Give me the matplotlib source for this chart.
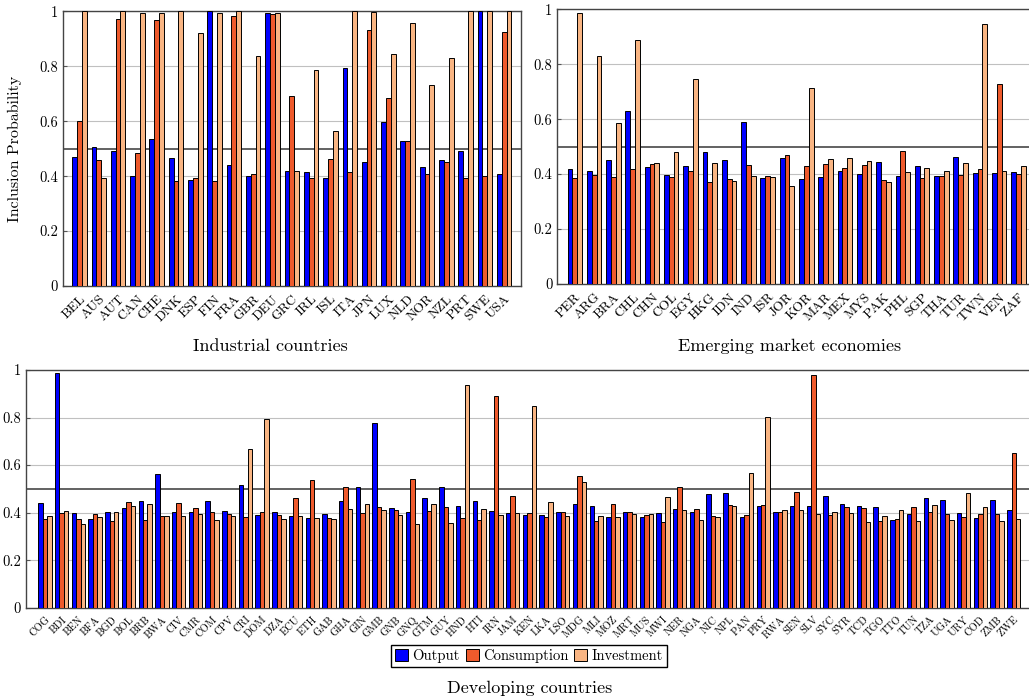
import numpy as np
import matplotlib
matplotlib.use("Agg")
import matplotlib.pyplot as plt
from matplotlib.patches import Patch

plt.rcParams["font.family"] = "serif"
plt.rcParams["font.serif"] = ["cmr10", "DejaVu Serif"]
plt.rcParams["mathtext.fontset"] = "cm"
plt.rcParams["axes.formatter.use_mathtext"] = True

# --- data -------------------------------------------------------------
ind_names = ["BEL", "AUS", "AUT", "CAN", "CHE", "DNK", "ESP", "FIN", "FRA", "GBR", "DEU", "GRC",
             "IRL", "ISL", "ITA", "JPN", "LUX", "NLD", "NOR", "NZL", "PRT", "SWE", "USA"]
ind_output = [0.469, 0.505, 0.491, 0.400, 0.536, 0.465, 0.387, 1.000, 0.439, 0.401, 0.994, 0.419,
              0.415, 0.392, 0.793, 0.452, 0.596, 0.527, 0.433, 0.457, 0.490, 1.000, 0.407]
ind_cons = [0.600, 0.458, 0.971, 0.486, 0.967, 0.384, 0.395, 0.384, 0.984, 0.407, 0.991, 0.690,
            0.392, 0.463, 0.415, 0.932, 0.686, 0.527, 0.407, 0.450, 0.395, 0.399, 0.926]
ind_inv = [1.000, 0.393, 1.000, 0.994, 0.994, 1.000, 0.920, 0.994, 1.000, 0.836, 0.995, 0.417,
           0.788, 0.566, 1.000, 0.996, 0.845, 0.959, 0.733, 0.830, 1.000, 1.000, 1.000]

eme_names = ["PER", "ARG", "BRA", "CHL", "CHN", "COL", "EGY", "HKG", "IDN", "IND", "ISR", "JOR",
             "KOR", "MAR", "MEX", "MYS", "PAK", "PHL", "SGP", "THA", "TUR", "TWN", "VEN", "ZAF"]
eme_output = [0.419, 0.413, 0.453, 0.631, 0.426, 0.397, 0.431, 0.479, 0.450, 0.589, 0.385, 0.458,
              0.383, 0.388, 0.413, 0.400, 0.443, 0.393, 0.430, 0.393, 0.462, 0.404, 0.403, 0.408]
eme_cons = [0.385, 0.397, 0.388, 0.417, 0.436, 0.390, 0.413, 0.371, 0.382, 0.433, 0.392, 0.470,
            0.430, 0.436, 0.421, 0.432, 0.379, 0.483, 0.385, 0.392, 0.398, 0.419, 0.729, 0.402]
eme_inv = [0.988, 0.830, 0.585, 0.888, 0.439, 0.479, 0.746, 0.439, 0.374, 0.392, 0.388, 0.357,
           0.712, 0.454, 0.460, 0.447, 0.371, 0.407, 0.422, 0.410, 0.439, 0.945, 0.410, 0.431]

dev_names = ["COG", "BDI", "BEN", "BFA", "BGD", "BOL", "BRB", "BWA", "CIV", "CMR", "COM", "CPV",
             "CRI", "DOM", "DZA", "ECU", "ETH", "GAB", "GHA", "GIN", "GMB", "GNB", "GNQ", "GTM",
             "GUY", "HND", "HTI", "IRN", "JAM", "KEN", "LKA", "LSO", "MDG", "MLI", "MOZ", "MRT",
             "MUS", "MWI", "NER", "NGA", "NIC", "NPL", "PAN", "PRY", "RWA", "SEN", "SLV", "SYC",
             "SYR", "TCD", "TGO", "TTO", "TUN", "TZA", "UGA", "URY", "COD", "ZMB", "ZWE"]
dev_output = [0.439, 0.989, 0.397, 0.372, 0.404, 0.418, 0.450, 0.564, 0.404, 0.401, 0.449, 0.408,
              0.515, 0.390, 0.404, 0.386, 0.376, 0.396, 0.450, 0.508, 0.778, 0.421, 0.401, 0.461,
              0.508, 0.428, 0.449, 0.405, 0.398, 0.388, 0.390, 0.401, 0.438, 0.428, 0.381, 0.401,
              0.381, 0.398, 0.417, 0.401, 0.477, 0.484, 0.381, 0.428, 0.404, 0.426, 0.429, 0.468,
              0.438, 0.429, 0.424, 0.370, 0.394, 0.460, 0.453, 0.397, 0.379, 0.454, 0.410]
dev_cons = [0.374, 0.400, 0.374, 0.394, 0.363, 0.446, 0.367, 0.384, 0.439, 0.418, 0.404, 0.396,
            0.380, 0.404, 0.390, 0.460, 0.539, 0.376, 0.508, 0.397, 0.424, 0.412, 0.541, 0.405,
            0.424, 0.376, 0.367, 0.891, 0.470, 0.400, 0.381, 0.403, 0.553, 0.365, 0.438, 0.401,
            0.390, 0.359, 0.506, 0.414, 0.384, 0.431, 0.390, 0.432, 0.401, 0.485, 0.978, 0.390,
            0.422, 0.418, 0.363, 0.374, 0.424, 0.401, 0.396, 0.380, 0.394, 0.393, 0.649]
dev_inv = [0.386, 0.405, 0.353, 0.383, 0.401, 0.429, 0.438, 0.384, 0.384, 0.396, 0.369, 0.384,
           0.666, 0.794, 0.372, 0.384, 0.379, 0.372, 0.414, 0.436, 0.410, 0.391, 0.352, 0.436,
           0.355, 0.935, 0.415, 0.390, 0.400, 0.849, 0.446, 0.384, 0.527, 0.386, 0.380, 0.394,
           0.394, 0.466, 0.410, 0.370, 0.381, 0.426, 0.565, 0.802, 0.411, 0.411, 0.394, 0.404,
           0.397, 0.359, 0.384, 0.411, 0.363, 0.432, 0.369, 0.481, 0.422, 0.366, 0.374]

series_labels = ["Output", "Consumption", "Investment"]
colors = ["#0000ff", "#ee5a2c", "#f9b583"]


def panel(ax, names, series, pad, width, label_size):
	x = np.arange(len(names))
	for i, (vals, c) in enumerate(zip(series, colors)):
		ax.bar(x + (i - 1) * width, vals, width, color=c, edgecolor="black",
			linewidth=0.7, zorder=3)
	ax.set_xlim(-pad, len(names) - 1 + pad)
	ax.set_ylim(0, 1)
	ax.set_yticks([0, 0.2, 0.4, 0.6, 0.8, 1.0])
	ax.set_yticklabels(["0", "0.2", "0.4", "0.6", "0.8", "1"], fontsize=10.5)
	ax.yaxis.grid(True, color="#c0c0c0", linewidth=0.8, zorder=0)
	ax.axhline(0.5, color="#555555", linewidth=1.3, zorder=2)
	ax.set_xticks(x)
	ax.set_xticklabels(names, rotation=45, ha="right", rotation_mode="anchor",
		fontsize=label_size)
	ax.tick_params(axis="x", length=0, pad=5)
	ax.tick_params(axis="y", direction="in", length=3, color="#555555")
	for s in ax.spines.values():
		s.set_color("#444444")
		s.set_linewidth(1.0)


fig = plt.figure(figsize=(10.29, 6.99), dpi=100)

ax1 = fig.add_axes([0.0609, 0.5908, 0.4454, 0.393])
panel(ax1, ind_names, [ind_output, ind_cons, ind_inv], 0.87, 0.25, 9.8)
ax1.set_ylabel("Inclusion Probability", fontsize=11.5)
ax1.yaxis.set_label_coords(-0.088, 0.5)

ax2 = fig.add_axes([0.5416, 0.5937, 0.4652, 0.393])
panel(ax2, eme_names, [eme_output, eme_cons, eme_inv], 0.907, 0.25, 9.8)

ax3 = fig.add_axes([0.025, 0.1306, 0.9789, 0.3401])
panel(ax3, dev_names, [dev_output, dev_cons, dev_inv], 1.155, 0.266, 7.6)

fig.text(270 / 1029, 1 - 346 / 699, "Industrial countries", ha="center", va="center", fontsize=13)
fig.text(790 / 1029, 1 - 346 / 699, "Emerging market economies", ha="center", va="center", fontsize=13)
fig.text(530 / 1029, 1 - 688 / 699, "Developing countries", ha="center", va="center", fontsize=13)

handles = [Patch(facecolor=c, edgecolor="black", linewidth=0.7) for c in colors]
fig.legend(handles, series_labels, loc="center", bbox_to_anchor=(529 / 1029, 1 - 656 / 699),
	ncol=3, fontsize=10.5, frameon=True, fancybox=False, edgecolor="black", framealpha=1,
	handlelength=0.9, handleheight=0.9, handletextpad=0.3, columnspacing=0.4,
	borderpad=0.25, borderaxespad=0)

fig.savefig("out.png", dpi=100)
